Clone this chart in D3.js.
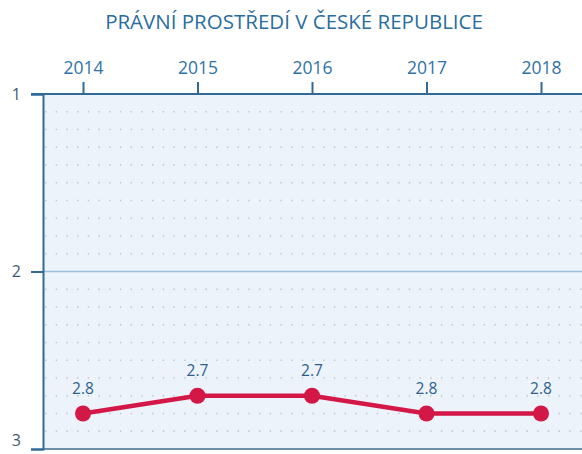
<!DOCTYPE html>
<html>
<head>
<meta charset="utf-8">
<script src="https://cdn.jsdelivr.net/npm/d3@7"></script>
<style>
  body { margin: 0; background: #fff; }
  text { font-family: "Open Sans", "Noto Sans", sans-serif; }
</style>
</head>
<body>
<div id="chart"></div>
<script>
"use strict";

// == DATA ==
var years = [2014, 2015, 2016, 2017, 2018];
var scores = [2.8, 2.7, 2.7, 2.8, 2.8];
var yTicks = [1, 2, 3];
var title = "PRÁVNÍ PROSTŘEDÍ V ČESKÉ REPUBLICE";

// == BOILERPLATE ==
var W = 582, H = 454;
var plot = { left: 43, top: 94, right: 582, bottom: 449 };

var svg = d3.select("#chart")
  .append("svg")
  .attr("width", W)
  .attr("height", H);

var x = d3.scaleLinear()
  .domain([2014, 2018])
  .range([83, 541]);

var y = d3.scaleLinear()
  .domain([1, 3])
  .range([plot.top, plot.bottom]);

// background
svg.append("rect")
  .attr("x", plot.left)
  .attr("y", plot.top)
  .attr("width", plot.right - plot.left)
  .attr("height", plot.bottom - plot.top)
  .attr("fill", "#edf3fb");

// dotted minor grid every 0.1
var minor = d3.range(1.1, 3, 0.1).filter(function (v) { return Math.abs(v - 2) > 0.01; });
svg.append("g")
  .selectAll("line")
  .data(minor)
  .enter()
  .append("line")
  .attr("x1", plot.left + 2)
  .attr("x2", plot.right)
  .attr("y1", function (d) { return y(d); })
  .attr("y2", function (d) { return y(d); })
  .attr("stroke", "#b9c6d3")
  .attr("stroke-width", 1.4)
  .attr("stroke-dasharray", "1.4,9.3");

// solid line at 2
svg.append("line")
  .attr("x1", plot.left)
  .attr("x2", plot.right)
  .attr("y1", y(2))
  .attr("y2", y(2))
  .attr("stroke", "#9cc0dc")
  .attr("stroke-width", 1.6);

// bottom line
svg.append("line")
  .attr("x1", plot.left)
  .attr("x2", plot.right)
  .attr("y1", y(3))
  .attr("y2", y(3))
  .attr("stroke", "#6f8ea8")
  .attr("stroke-width", 1.8);

// top axis
var xAxis = d3.axisTop(x)
  .tickValues(years)
  .tickFormat(d3.format("d"))
  .tickSize(12)
  .tickPadding(8);

var gx = svg.append("g")
  .attr("transform", "translate(0," + plot.top + ")")
  .call(xAxis);
gx.select(".domain").remove();
gx.selectAll(".tick line").attr("stroke", "#2f6a99").attr("stroke-width", 2);
gx.selectAll(".tick text")
  .attr("fill", "#2f72a8")
  .style("font-size", "17.5px");

svg.append("line")
  .attr("x1", 31)
  .attr("x2", plot.right)
  .attr("y1", plot.top)
  .attr("y2", plot.top)
  .attr("stroke", "#2f6a99")
  .attr("stroke-width", 2);

// left axis
var yAxis = d3.axisLeft(y)
  .tickValues(yTicks)
  .tickFormat(d3.format("d"))
  .tickSize(12)
  .tickPadding(10);

var gy = svg.append("g")
  .attr("transform", "translate(" + plot.left + ",0)")
  .call(yAxis);
gy.select(".domain").attr("stroke", "#2f6a99").attr("stroke-width", 2);
gy.selectAll(".tick line").attr("stroke", "#2f6a99").attr("stroke-width", 2);
gy.selectAll(".tick text")
  .attr("fill", "#3d5a74")
  .style("font-size", "16px")
  .attr("dy", function (d) { return d === 3 ? "-0.25em" : "0.32em"; });

// line
var line = d3.line()
  .x(function (d, i) { return x(years[i]); })
  .y(function (d) { return y(d); });

svg.append("path")
  .datum(scores)
  .attr("d", line)
  .attr("fill", "none")
  .attr("stroke", "#d31746")
  .attr("stroke-width", 4.5);

svg.selectAll("circle.pt")
  .data(scores)
  .enter()
  .append("circle")
  .attr("class", "pt")
  .attr("cx", function (d, i) { return x(years[i]); })
  .attr("cy", function (d) { return y(d); })
  .attr("r", 8)
  .attr("fill", "#d31746");

svg.selectAll("text.lbl")
  .data(scores)
  .enter()
  .append("text")
  .attr("class", "lbl")
  .attr("x", function (d, i) { return x(years[i]); })
  .attr("y", function (d) { return y(d) - 20; })
  .attr("text-anchor", "middle")
  .attr("fill", "#2e5f8c")
  .style("font-size", "15.5px")
  .text(function (d) { return d.toFixed(1); });

// title
svg.append("text")
  .attr("x", 294)
  .attr("y", 29)
  .attr("text-anchor", "middle")
  .attr("fill", "#2a6d9f")
  .style("font-size", "20.5px")
  .text(title);
</script>
</body>
</html>
